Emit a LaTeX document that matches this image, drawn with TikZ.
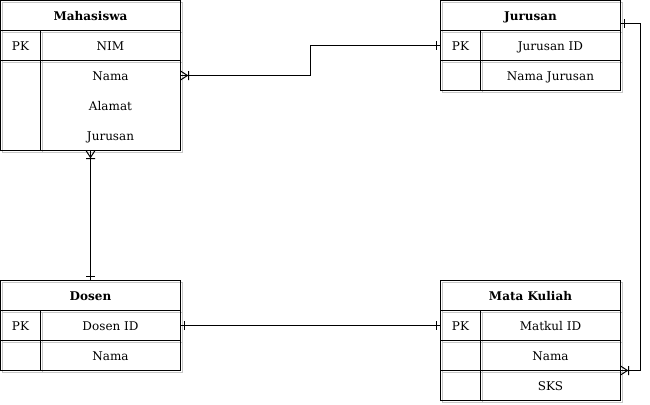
\documentclass[tikz,border=0pt]{standalone}
\usepackage{fontspec}
\setmainfont{DejaVu Serif}
\usetikzlibrary{calc,arrows.meta}

\pgfdeclarearrow{
  name = CrowOne,
  setup code = {
    \pgfarrowssettipend{0pt}
    \pgfarrowssetlineend{0pt}
    \pgfarrowssetvisualbackend{-9pt}
    \pgfarrowssetbackend{-9pt}
  },
  drawing code = {
    \pgfsetdash{}{0pt}
    \pgfpathmoveto{\pgfqpoint{0pt}{4.5pt}}
    \pgfpathlineto{\pgfqpoint{-7pt}{0pt}}
    \pgfpathlineto{\pgfqpoint{0pt}{-4.5pt}}
    \pgfpathmoveto{\pgfqpoint{-8pt}{4.5pt}}
    \pgfpathlineto{\pgfqpoint{-8pt}{-4.5pt}}
    \pgfusepathqstroke
  }
}
\pgfdeclarearrow{
  name = OneBar,
  setup code = {
    \pgfarrowssettipend{0pt}
    \pgfarrowssetlineend{0pt}
    \pgfarrowssetvisualbackend{-5pt}
    \pgfarrowssetbackend{-5pt}
  },
  drawing code = {
    \pgfsetdash{}{0pt}
    \pgfpathmoveto{\pgfqpoint{-4pt}{4.5pt}}
    \pgfpathlineto{\pgfqpoint{-4pt}{-4.5pt}}
    \pgfusepathqstroke
  }
}

\begin{document}
\begin{tikzpicture}[x=1pt,y=-1pt, line width=1pt,
  shad/.style={preaction={draw=black!22, line width=1.2pt, transform canvas={shift={(2pt,-2pt)}}}},
  tf/.style={font=\fontsize{12}{14}\selectfont, text height=10.5pt, text depth=0.75pt},
  cell/.style={draw=black, shad, inner sep=0pt, outer sep=0pt, anchor=north west, minimum height=30pt, tf},
  ttl/.style={cell, minimum width=180pt, font=\fontsize{12}{14}\selectfont\bfseries},
  pkc/.style={cell, minimum width=40pt},
  fld/.style={cell, minimum width=140pt},
  txt/.style={inner sep=0pt, outer sep=0pt, anchor=north west, minimum width=140pt, minimum height=30pt, tf},
  frame/.style={inner sep=0pt, outer sep=0pt, anchor=north west, minimum width=180pt},
  rel/.style={draw=black, line width=1pt}
]
\useasboundingbox (0,0) rectangle (650,404);

% Mahasiswa
\node[ttl] (mt) at (0.5,0.5) {Mahasiswa};
\node[pkc] (mpk) at (0.5,30.5) {PK};
\node[fld] (mnim) at (40.5,30.5) {NIM};
\node[pkc, minimum height=90pt] (mpk2) at (0.5,60.5) {};
\node[fld, minimum height=90pt] (mrest) at (40.5,60.5) {};
\node[txt] (mnama) at (40.5,60.5) {Nama};
\node[txt] (malamat) at (40.5,90.5) {Alamat};
\node[txt] (mjur) at (40.5,120.5) {Jurusan};
\node[frame, minimum height=150pt] (mhs) at (0.5,0.5) {};

% Jurusan
\node[ttl] (jt) at (440.5,0.5) {Jurusan};
\node[pkc] (jpk) at (440.5,30.5) {PK};
\node[fld] (jid) at (480.5,30.5) {Jurusan ID};
\node[pkc] (jpk2) at (440.5,60.5) {};
\node[fld] (jnama) at (480.5,60.5) {Nama Jurusan};

% Dosen
\node[ttl] (dt) at (0.5,280.5) {Dosen};
\node[pkc] (dpk) at (0.5,310.5) {PK};
\node[fld] (did) at (40.5,310.5) {Dosen ID};
\node[pkc] (dpk2) at (0.5,340.5) {};
\node[fld] (dnama) at (40.5,340.5) {Nama};

% Mata Kuliah
\node[ttl] (kt) at (440.5,280.5) {Mata Kuliah};
\node[pkc] (kpk) at (440.5,310.5) {PK};
\node[fld] (kid) at (480.5,310.5) {Matkul ID};
\node[pkc] (kpk2) at (440.5,340.5) {};
\node[fld] (knama) at (480.5,340.5) {Nama};
\node[pkc] (kpk3) at (440.5,370.5) {};
\node[fld] (ksks) at (480.5,370.5) {SKS};

% Relations
\draw[rel, {CrowOne}-{OneBar}] (mnama.east) -| ($(mnama.east)!.5!(jpk.west)$) |- (jpk.west);
\draw[rel, {CrowOne}-{OneBar}] (mhs.south) -- (dt.north);
\draw[rel, {OneBar}-{OneBar}] (did.east) -- (kpk.west);
\coordinate (jout) at ([yshift=-8pt]jt.east);
\draw[rel, {OneBar}-{CrowOne}] (jout) -- ++(20,0) |- (knama.south east);
\end{tikzpicture}
\end{document}
